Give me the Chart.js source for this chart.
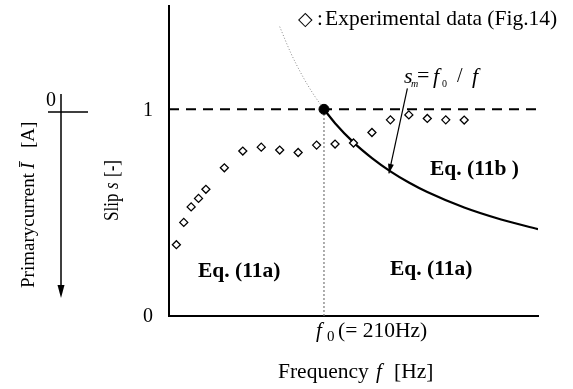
<!DOCTYPE html>
<html lang="en">
<head>
  <meta charset="UTF-8">
  <title>Slip vs frequency</title>
  <script src="https://cdn.jsdelivr.net/npm/chart.js@4.4.1/dist/chart.umd.min.js"></script>
  <style>
    html, body { margin: 0; padding: 0; background: #fff; }
    #wrap { width: 573px; height: 389px; position: relative; }
  </style>
</head>
<body>
  <div id="wrap"><canvas id="myChart" width="573" height="389"></canvas></div>

  <script>
    const expFreq = [10, 20, 30, 40, 50, 75, 100, 125, 150, 175, 200, 225, 250, 275, 300, 325, 350, 375, 400];
    const expSlip = [0.345, 0.453, 0.528, 0.569, 0.613, 0.717, 0.798, 0.817, 0.803, 0.791, 0.827, 0.832, 0.837, 0.888, 0.949, 0.973, 0.956, 0.949, 0.948];

    // s_m = f0 / f curve (Eq. 11b)
    const curveFreq = [210, 225, 250, 275, 300, 325, 350, 400, 450, 500];
    const curveSlip = [1.0, 0.933, 0.84, 0.764, 0.70, 0.646, 0.60, 0.525, 0.467, 0.42];

    // thin dotted continuation above f0
    const extFreq = [150, 165, 180, 195, 210];
    const extSlip = [1.40, 1.273, 1.167, 1.077, 1.0];

    const f0 = 210;
    const yTicks = [0, 1];
    const xRange = [0, 500];
    const yRange = [0, 1.5];

    const SERIF = '"Liberation Serif", "Times New Roman", serif';
    const pts = (xs, ys) => xs.map((x, i) => ({ x: x, y: ys[i] }));

    // texts and the extra axis, drawn on top of the chart
    const annot = {
      id: 'annot',
      afterDraw(chart) {
        const ctx = chart.ctx;
        const xs = chart.scales.x, ys = chart.scales.y;
        const X = v => xs.getPixelForValue(v), Y = v => ys.getPixelForValue(v);
        const txt = (s, x, y, font) => { ctx.font = font + ' ' + SERIF; ctx.fillText(s, x, y); };
        ctx.save();
        ctx.fillStyle = '#000';
        ctx.strokeStyle = '#000';

        // y tick labels
        ctx.textAlign = 'right';
        ctx.textBaseline = 'middle';
        yTicks.forEach(t => txt(String(t), 153, Y(t) + 1, '20px'));

        ctx.textAlign = 'left';
        ctx.textBaseline = 'alphabetic';

        // legend
        ctx.font = '19px "DejaVu Sans"';
        ctx.fillText('\u25C7', 298, 25);
        txt(':', 317, 25, '21px');
        txt('Experimental data (Fig.14)', 325, 25, '21.5px');

        // s_m = f0 / f
        txt('s', 404, 83, 'italic 22px');
        txt('m', 411, 87, 'italic 10px');
        txt('=', 417, 82, '22px');
        txt('f', 433, 83, 'italic 22px');
        txt('0', 442, 87, '10px');
        txt('/', 457, 82, '20px');
        txt('f', 472, 83, 'italic 22px');

        // arrow to the curve
        const ax0 = X(323), ay0 = Y(1.102), ax1 = X(298), ay1 = Y(0.69);
        ctx.lineWidth = 1.2;
        ctx.beginPath();
        ctx.moveTo(ax0, ay0);
        ctx.lineTo(ax1, ay1);
        ctx.stroke();
        const ang = Math.atan2(ay1 - ay0, ax1 - ax0);
        ctx.beginPath();
        ctx.moveTo(ax1, ay1);
        ctx.lineTo(ax1 - 10 * Math.cos(ang - 0.3), ay1 - 10 * Math.sin(ang - 0.3));
        ctx.lineTo(ax1 - 10 * Math.cos(ang + 0.3), ay1 - 10 * Math.sin(ang + 0.3));
        ctx.closePath();
        ctx.fill();

        // equation labels
        txt('Eq. (11b )', 430, 175, 'bold 21.5px');
        txt('Eq. (11a)', 198, 277, 'bold 21.5px');
        txt('Eq. (11a)', 390, 275, 'bold 21.5px');

        // x labels
        txt('f', 316, 337, 'italic 21px');
        txt('0', 327, 341, '15px');
        txt('(= 210Hz)', 338, 337, '21.5px');
        txt('Frequency', 278, 378, '21.5px');
        txt('f', 376, 378, 'italic 21px');
        txt('[Hz]', 394, 378, '21.5px');

        // rotated y titles (text runs upward, slightly condensed)
        const k = 0.85;
        ctx.save();
        ctx.translate(118, 0);
        ctx.rotate(-Math.PI / 2);
        ctx.scale(k, 1);
        txt('Slip', -221 / k, 0, '20px');
        txt('s', -189 / k, 0, 'italic 20px');
        txt('[-]', -177 / k, 0, '20px');
        ctx.restore();

        ctx.save();
        ctx.translate(34, 0);
        ctx.rotate(-Math.PI / 2);
        txt('Primarycurrent', -288, 0, '19px');
        txt('\u012A', -169, 0, 'italic 19px');
        txt('[A]', -148, 0, '19px');
        ctx.restore();

        // secondary (current) axis with downward arrow
        ctx.lineWidth = 1.5;
        ctx.beginPath();
        ctx.moveTo(61, 94);
        ctx.lineTo(61, 290);
        ctx.moveTo(48, 112);
        ctx.lineTo(88, 112);
        ctx.stroke();
        ctx.beginPath();
        ctx.moveTo(61, 298);
        ctx.lineTo(57.5, 285);
        ctx.lineTo(64.5, 285);
        ctx.closePath();
        ctx.fill();
        txt('0', 46, 106, '20px');

        ctx.restore();
      }
    };

    new Chart(document.getElementById('myChart'), {
      type: 'scatter',
      data: {
        datasets: [
          {
            label: 'point f0',
            data: [{ x: f0, y: 1 }],
            pointRadius: 5,
            pointBackgroundColor: '#000',
            pointBorderColor: '#000',
            showLine: false
          },
          {
            label: 'Experimental data',
            data: pts(expFreq, expSlip),
            pointStyle: 'rectRot',
            pointRadius: 4,
            pointBackgroundColor: '#fff',
            pointBorderColor: '#000',
            pointBorderWidth: 1.3,
            showLine: false
          },
          {
            label: 'Eq. (11b)',
            data: pts(curveFreq, curveSlip),
            showLine: true,
            borderColor: '#000',
            borderWidth: 2.2,
            pointRadius: 0,
            cubicInterpolationMode: 'monotone'
          },
          {
            label: 'extension',
            data: pts(extFreq, extSlip),
            showLine: true,
            borderColor: '#888',
            borderWidth: 1,
            borderDash: [1, 2],
            pointRadius: 0,
            cubicInterpolationMode: 'monotone'
          },
          {
            label: 's = 1',
            data: [{ x: xRange[0], y: 1 }, { x: xRange[1], y: 1 }],
            showLine: true,
            borderColor: '#000',
            borderWidth: 2,
            borderDash: [10, 7],
            pointRadius: 0
          },
          {
            label: 'f0 line',
            data: [{ x: f0, y: 0 }, { x: f0, y: 1 }],
            showLine: true,
            borderColor: '#777',
            borderWidth: 1.2,
            borderDash: [2, 2],
            pointRadius: 0
          }
        ]
      },
      options: {
        responsive: false,
        animation: false,
        layout: { padding: { left: 161, right: 35, top: 5, bottom: 65 } },
        plugins: {
          legend: { display: false },
          tooltip: { enabled: false }
        },
        scales: {
          x: {
            type: 'linear',
            min: xRange[0],
            max: xRange[1],
            grid: { display: false },
            ticks: { display: false },
            border: { display: true, color: '#000', width: 2 }
          },
          y: {
            type: 'linear',
            min: yRange[0],
            max: yRange[1],
            grid: { display: false },
            ticks: { display: false },
            border: { display: true, color: '#000', width: 2 }
          }
        }
      },
      plugins: [annot]
    });
  </script>
</body>
</html>
